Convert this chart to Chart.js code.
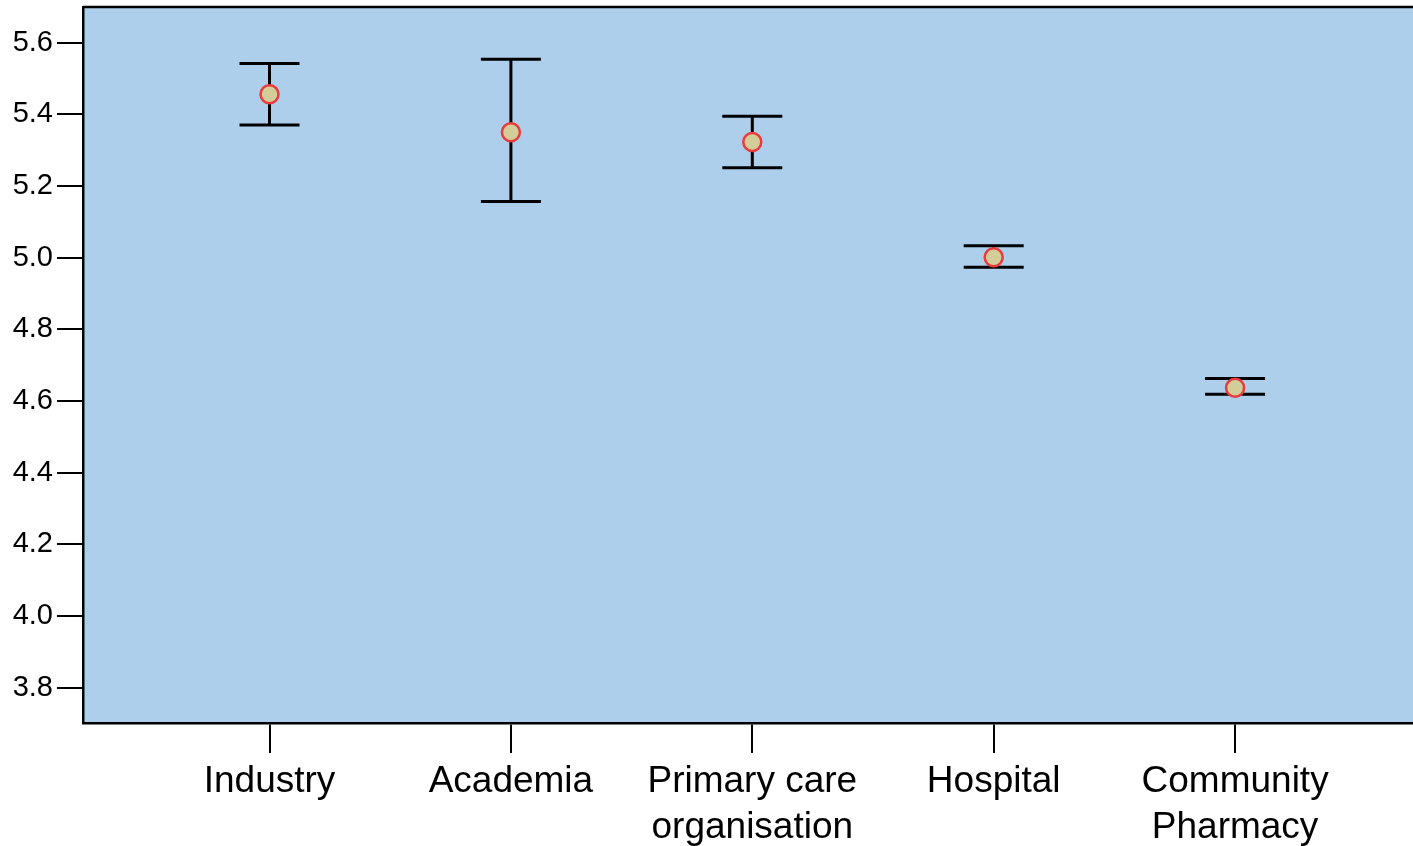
<!DOCTYPE html>
<html>
<head>
<meta charset="utf-8">
<script src="https://cdn.jsdelivr.net/npm/chart.js@4"></script>
<style>
  html, body { margin: 0; padding: 0; background: #fff; overflow: hidden; }
  #wrap { width: 1413px; height: 846px; }
</style>
</head>
<body>
<div id="wrap"><canvas id="meanChart"></canvas></div>
<script>
const categories = ['Industry', 'Academia', ['Primary care', 'organisation'], 'Hospital', ['Community', 'Pharmacy']];
const means = [5.456, 5.350, 5.323, 5.001, 4.637];
const upper = [5.542, 5.554, 5.395, 5.033, 4.663];
const lower = [5.370, 5.157, 5.251, 4.973, 4.619];
const yTicks = [3.8, 4.0, 4.2, 4.4, 4.6, 4.8, 5.0, 5.2, 5.4, 5.6];

document.addEventListener('DOMContentLoaded', function () {
    const points = means.map((m, i) => ({ x: i, y: m }));

    // light blue plot background + top border line
    const plotFrame = {
        id: 'plotFrame',
        beforeDraw(chart) {
            const a = chart.chartArea, ctx = chart.ctx;
            ctx.save();
            ctx.fillStyle = '#AECFEC';
            ctx.fillRect(a.left, a.top, a.right - a.left, a.bottom - a.top);
            ctx.restore();
        },
        afterDraw(chart) {
            const a = chart.chartArea, ctx = chart.ctx;
            ctx.save();
            ctx.strokeStyle = '#000';
            ctx.lineWidth = 2.5;
            ctx.beginPath();
            ctx.moveTo(a.left, a.top);
            ctx.lineTo(a.right, a.top);
            ctx.stroke();
            ctx.restore();
        }
    };

    // error bars, drawn under the markers
    const errorBars = {
        id: 'errorBars',
        beforeDatasetsDraw(chart) {
            const xs = chart.scales.x, ys = chart.scales.y, ctx = chart.ctx;
            ctx.save();
            ctx.strokeStyle = '#000';
            ctx.lineWidth = 3;
            means.forEach((m, i) => {
                const px = xs.getPixelForValue(i);
                const top = ys.getPixelForValue(upper[i]);
                const bot = ys.getPixelForValue(lower[i]);
                ctx.beginPath();
                ctx.moveTo(px, top); ctx.lineTo(px, bot);
                ctx.moveTo(px - 30, top); ctx.lineTo(px + 30, top);
                ctx.moveTo(px - 30, bot); ctx.lineTo(px + 30, bot);
                ctx.stroke();
            });
            ctx.restore();
        }
    };

    const ctx = document.getElementById('meanChart').getContext('2d');
    new Chart(ctx, {
        type: 'scatter',
        data: {
            datasets: [{
                data: points,
                pointRadius: 9,
                pointHoverRadius: 9,
                pointBackgroundColor: '#D3CD9A',
                pointBorderColor: '#EB3A3C',
                pointBorderWidth: 2.5
            }]
        },
        options: {
            responsive: true,
            maintainAspectRatio: false,
            animation: false,
            layout: { autoPadding: false, padding: { top: 7, right: 0, left: 0, bottom: 0 } },
            plugins: { legend: { display: false }, tooltip: { enabled: false } },
            scales: {
                x: {
                    type: 'linear',
                    min: -0.7726,
                    max: 4.737,
                    afterBuildTicks(scale) { scale.ticks = categories.map((c, i) => ({ value: i })); },
                    afterFit(scale) {
                        scale.height = 123;
                        scale.paddingLeft = 0;
                        scale.paddingRight = 0;
                    },
                    grid: { drawOnChartArea: false, drawTicks: true, tickLength: 30, color: '#000', lineWidth: 2 },
                    border: { display: true, color: '#000', width: 2.5 },
                    ticks: {
                        autoSkip: false,
                        maxRotation: 0,
                        padding: 5,
                        color: '#000',
                        font: { family: 'Liberation Sans, Arial, sans-serif', size: 37, lineHeight: 1.26 },
                        callback: (v) => categories[Math.round(v)]
                    }
                },
                y: {
                    min: 3.7015,
                    max: 5.6996,
                    afterBuildTicks(scale) { scale.ticks = yTicks.map(v => ({ value: v })); },
                    afterFit(scale) {
                        scale.width = 83;
                        scale.paddingTop = 0;
                        scale.paddingBottom = 0;
                    },
                    grid: { drawOnChartArea: false, drawTicks: true, tickLength: 26, color: '#000', lineWidth: 2 },
                    border: { display: true, color: '#000', width: 2.5 },
                    ticks: {
                        padding: 4,
                        color: '#000',
                        font: { family: 'Liberation Sans, Arial, sans-serif', size: 29 },
                        callback: (v) => v.toFixed(1)
                    }
                }
            }
        },
        plugins: [plotFrame, errorBars]
    });
});
</script>
</body>
</html>
